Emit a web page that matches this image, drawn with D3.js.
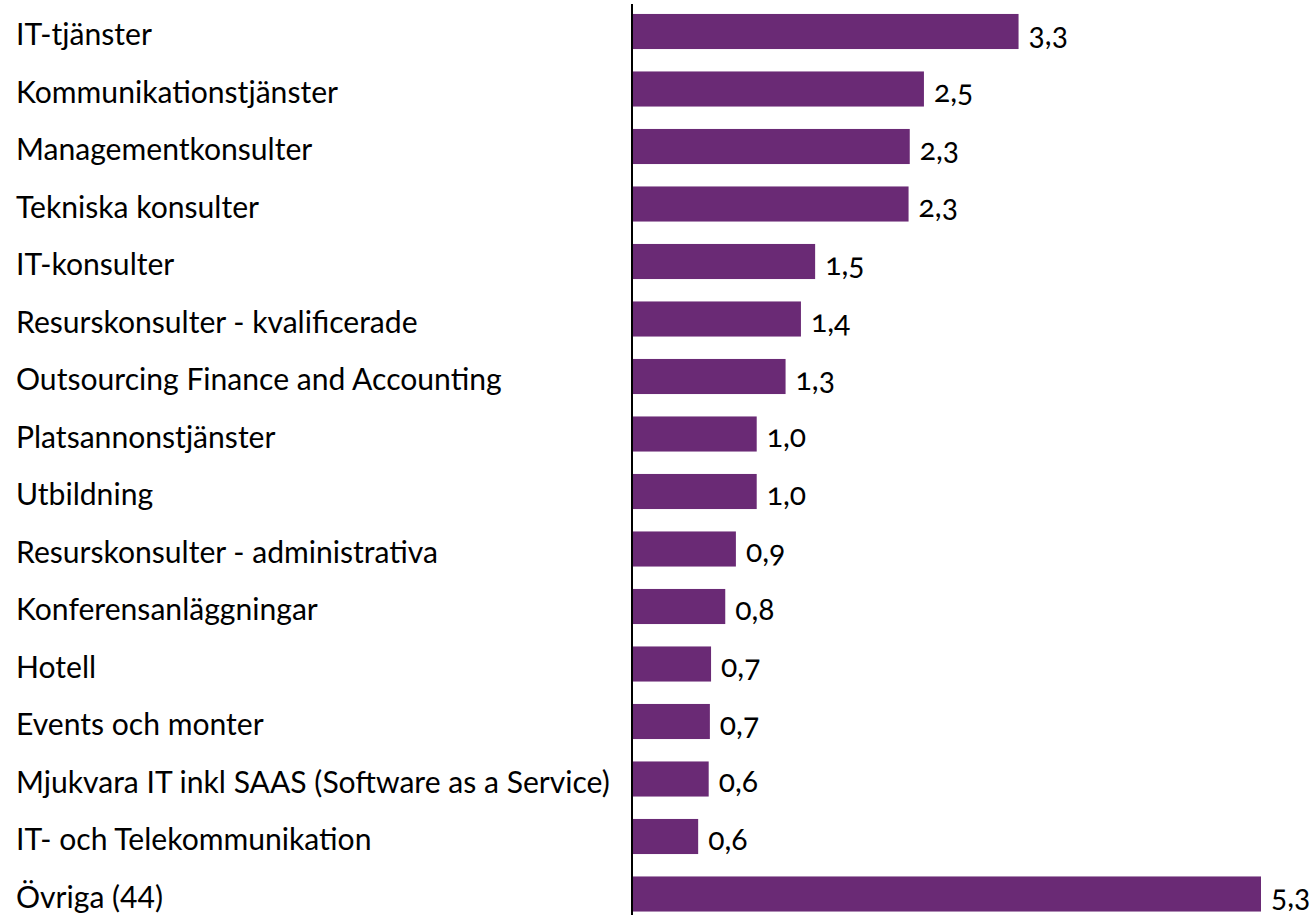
<!DOCTYPE html>
<html>
<head>
<meta charset="utf-8">
<script src="https://cdn.jsdelivr.net/npm/d3@7"></script>
<style>
  html, body { margin: 0; padding: 0; background: #fff; }
  svg { display: block; }
  text { font-family: Lato, "Noto Sans", sans-serif; fill: #000; }
  .val { font-feature-settings: "onum" 1; font-variant-numeric: oldstyle-nums; }
</style>
</head>
<body>
<svg id="chart"></svg>
<script>
const categories = [
  "IT-tjänster",
  "Kommunikationstjänster",
  "Managementkonsulter",
  "Tekniska konsulter",
  "IT-konsulter",
  "Resurskonsulter - kvalificerade",
  "Outsourcing Finance and Accounting",
  "Platsannonstjänster",
  "Utbildning",
  "Resurskonsulter - administrativa",
  "Konferensanläggningar",
  "Hotell",
  "Events och monter",
  "Mjukvara IT inkl SAAS (Software as a Service)",
  "IT- och Telekommunikation",
  "Övriga (44)"
];

// labels show one decimal
const values = [3.26, 2.46, 2.34, 2.33, 1.54, 1.42, 1.29, 1.046, 1.046, 0.87, 0.78, 0.66, 0.65, 0.64, 0.551, 5.31];

const width = 1312, height = 915;
const axisX = 633;

const svg = d3.select("#chart").attr("width", width).attr("height", height);

const x = d3.scaleLinear().domain([0, d3.max(values)]).range([axisX, axisX + 628]);

const y = d3.scaleBand()
  .domain(categories)
  .range([2.75, 922.75])
  .paddingInner(0.39)
  .paddingOuter(0.195);

const fmt = (v) => v.toFixed(1).replace(".", ",");

// category labels, sized so the longest one fits the left column
const labels = svg.append("g")
  .selectAll("text")
  .data(categories)
  .enter()
  .append("text")
  .attr("x", 16)
  .attr("y", (d) => y(d) + y.bandwidth() / 2 + 1.5)
  .attr("dominant-baseline", "central")
  .style("font-size", "26px")
  .text((d) => d);

let longest = 0;
labels.each(function () { longest = Math.max(longest, this.getComputedTextLength()); });
const fontSize = 26 * 594 / longest;
labels.style("font-size", fontSize + "px");

svg.append("g")
  .selectAll("rect")
  .data(values)
  .enter()
  .append("rect")
  .attr("x", x(0))
  .attr("y", (d, i) => y(categories[i]))
  .attr("width", (d) => x(d) - x(0))
  .attr("height", y.bandwidth())
  .attr("fill", "#6a2a75");

svg.append("g")
  .selectAll("text")
  .data(values)
  .enter()
  .append("text")
  .attr("class", "val")
  .attr("x", (d) => x(d) + 10)
  .attr("y", (d, i) => y(categories[i]) + y.bandwidth() / 2 + 13)
  .style("font-size", fontSize + "px")
  .text(fmt);

svg.append("line")
  .attr("x1", axisX - 1)
  .attr("x2", axisX - 1)
  .attr("y1", 4)
  .attr("y2", height)
  .attr("stroke", "#000")
  .attr("stroke-width", 2);
</script>
</body>
</html>
